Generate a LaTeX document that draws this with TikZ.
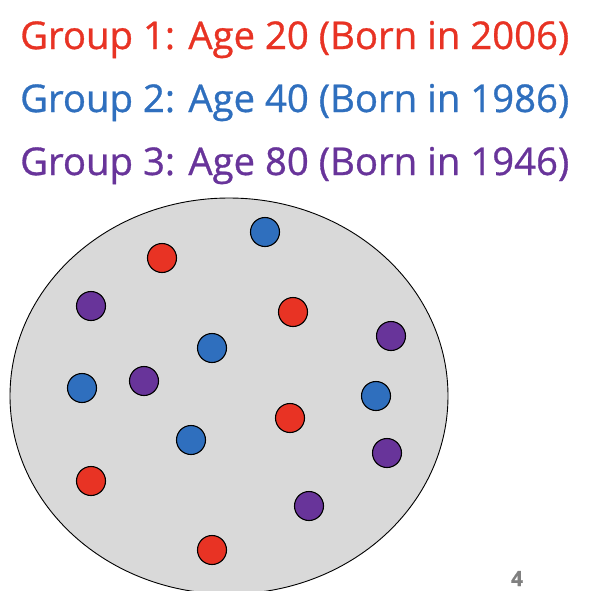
\documentclass[tikz,border=0pt]{standalone}
\usepackage{fontspec}
\setmainfont{Open Sans}[FakeBold=0.8]
\usetikzlibrary{positioning}
\definecolor{grpred}{RGB}{232,51,36}
\definecolor{grpblue}{RGB}{47,111,190}
\definecolor{grppurple}{RGB}{104,52,154}
\definecolor{poolgray}{RGB}{217,217,217}
\begin{document}
\begin{tikzpicture}[x=1pt,y=-1pt,
  grouplabel/.style={anchor=base west, inner sep=0pt, font=\fontsize{38.3}{38.3}\selectfont},
  person/.style={circle, draw=black, line width=1.1pt, minimum size=29pt, inner sep=0pt}]
  \useasboundingbox (0,0) rectangle (592,590);
  % legend lines
  \node[grouplabel, text=grpred] (g1) at (20,49) {Group 1: Age 20 (Born in 2006)};
  \node[grouplabel, text=grpblue] (g2) at (20,112) {Group 2: Age 40 (Born in 1986)};
  \node[grouplabel, text=grppurple] (g3) at (20,175) {Group 3: Age 80 (Born in 1946)};
  % population
  \draw[fill=poolgray, draw=black, line width=0.9pt] (229,396) ellipse [x radius=219, y radius=198];
  % people: name/x/y/colour
  \foreach \n/\x/\y/\c in {b1/265/232/grpblue, r1/162/258/grpred, p1/91/306/grppurple,
      r2/293/312/grpred, p2/391/336/grppurple, b2/212/348/grpblue,
      b3/82/388/grpblue, p3/144/381/grppurple, b4/376/396/grpblue,
      r3/290/418/grpred, b5/191/440/grpblue, p4/387/453/grppurple,
      r4/91/481/grpred, p5/309/506/grppurple, r5/212/550/grpred} {
    \node[person, fill=\c] (\n) at (\x,\y) {};
  }
  \node[anchor=base, inner sep=0pt, text=gray, font=\fontsize{21}{21}\selectfont\bfseries] (pagenum) at (517,586) {4};
\end{tikzpicture}
\end{document}
